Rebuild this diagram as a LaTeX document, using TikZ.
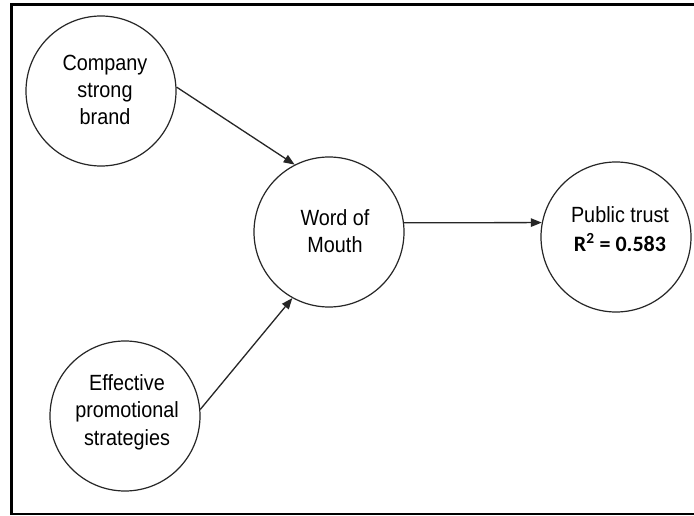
\documentclass[tikz,border=0pt]{standalone}
\usepackage{fontspec}
\setmainfont{Liberation Sans}[FakeStretch=0.9]
\newfontfamily\rfont{Carlito}
\usetikzlibrary{arrows.meta}
\begin{document}
\begin{tikzpicture}[x=1pt,y=-1pt,
  bubble/.style={circle,draw=black!85,line width=1.2pt,minimum size=150pt,inner sep=0pt},
  lbl/.style={align=center,font=\fontsize{22}{27}\selectfont,inner sep=0pt},
  link/.style={draw=black!85,line width=1.3pt,-{Triangle[length=11pt,width=8.5pt]}},
  frameline/.style={draw=black,line width=2.6pt}]
\useasboundingbox (0,0) rectangle (694,516);
\fill[white] (0,0) rectangle (694,516);
\draw[frameline] (710,4.5) -- (11.5,4.5) -- (11.5,514) -- (710,514);
% circles
\node[bubble] (c1) at (101,91) {};
\node[bubble] (wom) at (329,232) {};
\node[bubble] (pt) at (616,237) {};
\node[bubble] (eps) at (125,416) {};
% labels
\node[lbl] (c1t) at (105,90) {Company\\strong\\brand};
\node[lbl] (womt) at (335,231) {Word of\\Mouth};
\node[lbl,font=\fontsize{22}{29}\selectfont] (ptt) at (620,229) {Public trust\\{\rfont\bfseries R\textsuperscript{2} = 0.583}};
\node[lbl,font=\fontsize{22}{27.5}\selectfont] (epst) at (127,412) {Effective\\promotional\\strategies};
% connectors
\draw[link] (c1.3) -- (wom.117);
\draw[link] (eps.5) -- (wom.241);
\draw[link] (wom.7) -- (pt.169);
\end{tikzpicture}
\end{document}
